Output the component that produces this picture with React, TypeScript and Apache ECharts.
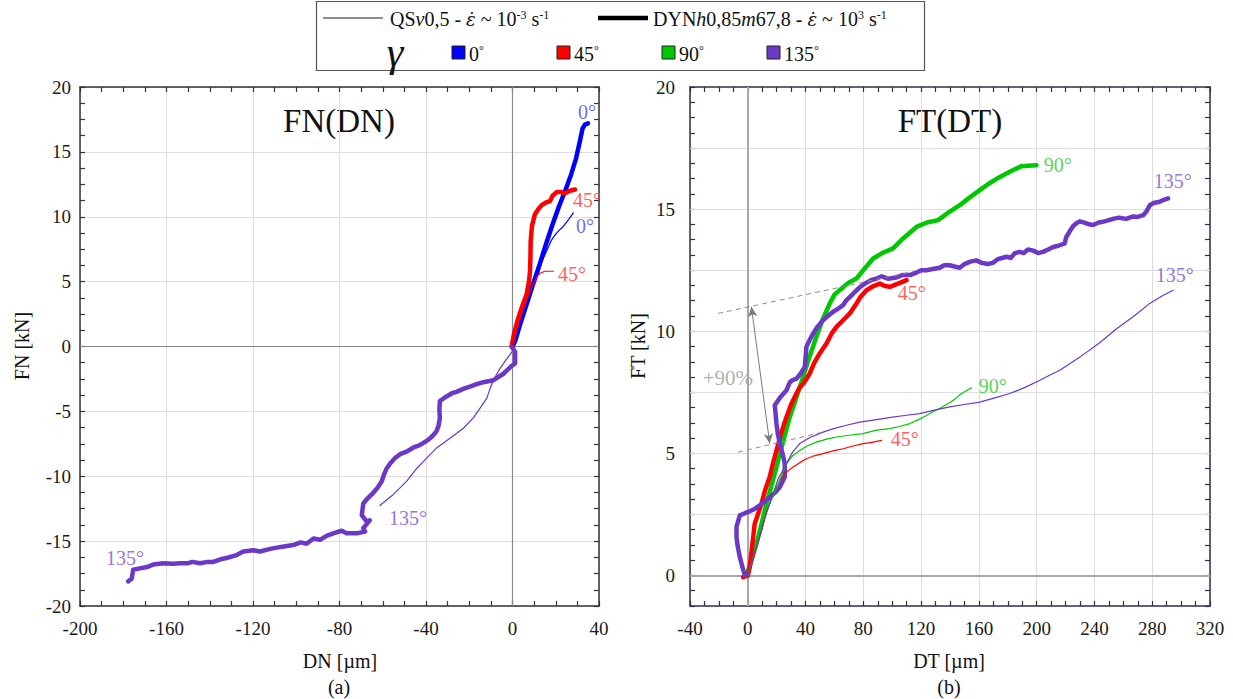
import React, { useEffect, useRef } from 'react';
import * as echarts from 'echarts';

const FONT = '"Liberation Serif", "DejaVu Serif", serif';

// ---------- Panel (a): FN(DN) ----------
const dnXTicks = { min: -200, max: 40, interval: 40 };
const fnYTicks = { min: -20, max: 20, interval: 5 };

const dn0Dyn: number[][] = [[0,0],[1.2,0.4],[3.5,1.7],[6.4,3.2],[9.5,4.8],[12.5,6.3],[15.5,7.9],[18.5,9.4],[21.5,10.8],[24.8,12.2],[27.2,13.3],[29.4,14.5],[31,15.7],[32.4,16.8],[33.5,17.1],[34.9,17.2]];
const dn0Qs: number[][] = [[0,0],[2,1],[5,2.5],[8,4],[11,5.4],[14,6.7],[16.4,7.6],[18,8.2],[19.7,8.6],[21.5,8.95],[23.5,9.25],[26,9.8],[28.1,10.3]];
const dn45Dyn: number[][] = [[-0.4,0],[0.5,0.8],[1.5,1.5],[2.7,2.2],[4.5,3.1],[6.5,4],[7.6,5],[8.1,5.8],[8.3,7],[8.4,8.1],[9,9.3],[10.4,10.2],[12,10.6],[13.5,10.9],[15.5,11.1],[17.3,11.2],[18.5,11.6],[20.4,11.9],[22.5,11.9],[24.3,11.8],[26.5,12],[28.9,12.1]];
const dn45Qs: number[][] = [[0,0],[2.5,1.6],[5,2.9],[7.5,4],[9.6,4.75],[11,5.3],[12.7,5.65],[15,5.8],[18.9,5.8]];
const dn135Dyn: number[][] = [[-0.4,0],[1.2,-0.4],[1.2,-1.3],[-0.4,-1.5],[-4.2,-2.1],[-8.8,-2.6],[-13.5,-2.75],[-16.5,-2.9],[-19.7,-3.1],[-22.5,-3.25],[-25.9,-3.5],[-28,-3.6],[-30.5,-3.85],[-33.6,-4.2],[-33.8,-4.9],[-33.6,-5.5],[-34.2,-6.1],[-35.2,-6.55],[-37,-6.9],[-39,-7.2],[-42.9,-7.6],[-46,-7.8],[-49,-8.1],[-52,-8.3],[-54.3,-8.6],[-56.5,-9],[-58.2,-9.4],[-59.5,-9.9],[-60.5,-10.4],[-62.5,-10.9],[-65.1,-11.4],[-67,-11.7],[-69,-12.1],[-69.7,-13],[-67.4,-13.5],[-66,-13.4],[-69,-14],[-68.2,-14.26],[-72,-14.4],[-76.7,-14.4],[-79,-14.2],[-82.9,-14.4],[-86,-14.6],[-89,-14.9],[-92,-14.8],[-95.2,-15.2],[-98,-15.1],[-101.4,-15.3],[-105,-15.4],[-109,-15.5],[-112,-15.6],[-116.8,-15.8],[-120,-15.7],[-124.5,-15.8],[-128,-16.1],[-132.2,-16.3],[-135,-16.4],[-138.4,-16.6],[-141,-16.6],[-144.5,-16.7],[-148,-16.6],[-150,-16.7],[-153.8,-16.7],[-157,-16.75],[-161.5,-16.7],[-166.1,-16.8],[-169,-17],[-172.3,-17.1],[-175.4,-17.2],[-176.1,-17.9],[-177.7,-18.1]];
const dn135Qs: number[][] = [[0,0],[0.4,-0.25],[-1.5,-0.7],[-3.5,-1.15],[-5.8,-1.7],[-7.5,-2.2],[-8.8,-2.6],[-10.5,-3.3],[-11.9,-4],[-15,-4.75],[-18.1,-5.5],[-22.7,-6.3],[-28.9,-7.07],[-35,-7.8],[-39.7,-8.6],[-44.3,-9.4],[-49,-10.4],[-55.1,-11.4],[-61.3,-12.25]];

// ---------- Panel (b): FT(DT) ----------
const dtXTicks = { min: -40, max: 320, interval: 40 };
const ftYTicks = { min: -1.25, max: 20, interval: 0.625 };
const ftGridValues = [2.5, 5, 7.5, 10, 12.5, 15, 17.5];

const dt90Dyn: number[][] = [[0,0],[0.2,0.2],[3,0.7],[6,1.3],[9.5,2.1],[12.9,2.94],[16.5,3.7],[19.9,4.44],[24.5,5.5],[29.1,6.49],[33.7,7.3],[38.3,8.13],[43,9],[47.5,9.77],[52,10.5],[56.8,11.14],[60,11.5],[66,11.8],[70,12],[75.3,12.16],[80,12.5],[86.8,12.98],[93,13.2],[100.6,13.39],[107.5,13.8],[116.8,14.27],[124,14.45],[131.8,14.55],[139.8,14.9],[146.8,15.16],[153,15.45],[160.6,15.78],[167,16.05],[174.5,16.32],[182,16.55],[189.5,16.76],[194,16.78],[199.9,16.8]];
const dt45Dyn: number[][] = [[-3.2,-0.07],[0,0],[1.4,0.34],[3,1.2],[4.8,2.12],[7,2.5],[9.5,2.94],[12,3.5],[15.2,4.03],[17.5,4.6],[19.9,5.12],[23,5.8],[26.8,6.49],[30,7],[33.7,7.45],[36,7.7],[39,7.9],[42.9,8.27],[46,8.7],[49.8,9.09],[54.5,9.5],[58,9.9],[61.4,10.18],[66,10.45],[70.6,10.73],[75.3,11.14],[78,11.4],[82.2,11.68],[87,11.85],[91.4,11.95],[95,11.85],[98.3,11.82],[104,11.95],[109.9,12.09]];
const dt135Dyn: number[][] = [[-2,0],[-3.5,0.3],[-5.5,0.75],[-7,1.2],[-7.8,1.57],[-7.8,2],[-5.5,2.46],[-2,2.55],[0.2,2.6],[4,2.7],[8.3,2.87],[12,3.05],[15.2,3.2],[19,3.4],[22.2,3.62],[25.6,4.03],[25.6,4.58],[24,5],[22.2,5.4],[20.8,5.8],[19.9,6.2],[18.7,6.97],[22.5,7.3],[26.8,7.58],[29,7.9],[31,8],[33.7,8.06],[37,8.3],[39.5,8.54],[40.6,9.36],[42.5,9.6],[45.2,9.9],[48.5,10.2],[52.1,10.45],[55,10.6],[59.1,10.8],[62,10.9],[66,11.07],[68,11.25],[70.6,11.4],[74,11.6],[77.5,11.8],[81,11.95],[85.6,12.1],[89,12.15],[92.6,12.25],[97,12.15],[102.9,12.2],[107,12.3],[112.2,12.3],[116.8,12.4],[120,12.5],[123.7,12.5],[128,12.55],[132.9,12.6],[136,12.7],[139.8,12.7],[143,12.65],[146.8,12.6],[150,12.75],[154,12.85],[158.3,12.9],[162,12.8],[166,12.75],[169.8,12.8],[173,12.95],[176,13],[179.1,13.05],[182,13],[185,13.2],[188.3,13.25],[191,13.2],[194,13.35],[197.5,13.3],[201,13.2],[204.4,13.25],[208,13.35],[211.4,13.45],[215,13.5],[219.5,13.6],[220,13.75],[220.6,13.87],[223,14.1],[225.2,14.3],[227,14.4],[229.8,14.5],[233,14.45],[236,14.38],[239,14.35],[243,14.45],[247,14.5],[252.9,14.6],[257,14.65],[262,14.6],[266.8,14.7],[270,14.68],[273.7,14.75],[276,14.9],[278.3,15.16],[281,15.25],[285.2,15.3],[288,15.38],[291,15.44]];
const dt45Qs: number[][] = [[0,0],[2,0.3],[4.8,0.89],[7,1.4],[9.5,1.84],[12,2.4],[15.2,2.94],[18.5,3.45],[22.2,3.89],[26,4.2],[31.4,4.44],[36,4.62],[40.6,4.78],[46,4.9],[52.1,4.99],[59,5.1],[66,5.19],[73,5.3],[79.8,5.4],[86,5.45],[92.6,5.53]];
const dt90Qs: number[][] = [[0,0],[3,0.6],[6,1.3],[10,2.2],[15.2,2.94],[20,3.6],[26.8,4.58],[31,4.9],[36,5.12],[41,5.3],[47.5,5.46],[54,5.57],[61.4,5.67],[70,5.74],[79.8,5.81],[89,5.95],[98.3,6.01],[105,6.1],[112.2,6.22],[119,6.4],[126,6.63],[133,6.85],[139.8,7.07],[144,7.25],[147.9,7.45],[151,7.55],[154.8,7.69]];
const dt135Qs: number[][] = [[0,0],[4,0.8],[9.5,1.84],[13,2.6],[17.5,3.35],[21,3.95],[26.8,4.58],[31,5.05],[36,5.4],[43,5.65],[52.1,5.87],[60,6.02],[68.3,6.15],[77.5,6.28],[89.1,6.38],[99,6.47],[109.9,6.56],[119,6.63],[130,6.78],[139.8,6.9],[150,7],[160.6,7.1],[171,7.27],[181.4,7.45],[192,7.7],[202.2,7.99],[209,8.2],[216,8.4],[230,8.95],[243,9.5],[255.3,10.1],[266.8,10.59],[278.3,11.14],[287,11.45],[294.5,11.68]];
const trendUpper: number[][] = [[-20.5,10.73],[115,12.45]];
const trendLower: number[][] = [[-6.7,5.05],[52.1,5.87]];
const arrowEnds: number[][] = [[2.5,11.0],[15.2,5.4]];

// Curve labels [x, y, text, colour key]
const labelsA: [number, number, string, string][] = [
  [34.4, 18.1, '0°', 'blue'], [34.4, 11.3, '45°', 'red'], [33.5, 9.25, '0°', 'blue'],
  [27.5, 5.6, '45°', 'red'], [-48.3, -13.2, '135°', 'purple'], [-179.2, -16.3, '135°', 'purple'],
];
const labelsB: [number, number, string, string][] = [
  [214.6, 16.8, '90°', 'green'], [294.2, 16.15, '135°', 'purple'], [113.5, 11.55, '45°', 'red'],
  [295.6, 12.3, '135°', 'purple'], [169.6, 7.75, '90°', 'green'], [108.7, 5.6, '45°', 'red'],
  [-13.8, 8.1, '+90%', 'gray'],
];

const COL: Record<string, string> = { blue: '#0000ff', red: '#ff0000', green: '#00c800', purple: '#6b38c8' };
const LABCOL: Record<string, string> = { blue: '#3f3fff', red: '#ff3535', green: '#2ec82e', purple: '#7a4fd2', gray: '#9a9a9a' };

function makeAxes(grid: number, isX: boolean, t: { min: number; max: number; interval: number }, opts: any) {
  const axisColor = grid === 0 ? '#333333' : '#332c48';
  const base = {
    type: 'value', gridIndex: grid, min: t.min, max: t.max, interval: t.interval,
    axisLine: { show: true, onZero: false, lineStyle: { color: axisColor, width: 1.5 } },
    axisTick: { show: true, inside: true, length: 5, lineStyle: { color: axisColor, width: 1.2 } },
    minorTick: { show: opts.minor, splitNumber: 4, length: 5, lineStyle: { color: axisColor, width: 1.2 } },
  };
  const main = {
    ...base,
    position: isX ? 'bottom' : 'left',
    splitLine: { show: opts.split, lineStyle: { color: '#dddddd', width: 1 } },
    axisLabel: {
      color: '#1a1a1a', fontFamily: FONT, fontSize: 19, margin: isX ? 13 : opts.ymargin,
      formatter: opts.fmt,
    },
  };
  const mirror = {
    ...base,
    position: isX ? 'top' : 'right',
    splitLine: { show: false },
    axisLabel: { show: false },
  };
  return [main, mirror];
}

function lineSeries(name: string, data: number[][], color: string, width: number, xi: number, yi: number, z = 3) {
  return {
    type: 'line', name, data, xAxisIndex: xi, yAxisIndex: yi,
    showSymbol: false, symbol: 'none', smooth: false, z,
    lineStyle: { color, width, cap: 'round', join: 'round' },
  };
}

function labelSeries(labels: [number, number, string, string][], xi: number, yi: number) {
  return {
    type: 'scatter', xAxisIndex: xi, yAxisIndex: yi, symbolSize: 2, z: 10,
    itemStyle: { color: 'rgba(0,0,0,0)' },
    data: labels.map((l) => ({
      value: [l[0], l[1]], name: l[2],
      label: { show: true, position: 'inside', formatter: '{b}', color: LABCOL[l[3]], fontFamily: FONT, fontSize: l[2] === '+90%' ? 21 : 20 },
    })),
  };
}

function refLines(xi: number, yi: number, lines: any[], color: string, width: number) {
  return {
    type: 'line', xAxisIndex: xi, yAxisIndex: yi, data: [], symbol: 'none', showSymbol: false,
    markLine: { silent: true, z: 1, symbol: ['none', 'none'], label: { show: false }, lineStyle: { color, width, type: 'solid' }, animation: false, data: lines },
  };
}

function txt(x: number, y: number, text: string, size: number, extra: any = {}) {
  const { style, ...rest } = extra;
  return {
    type: 'text', x, y, ...rest,
    style: { text, fill: '#111', fontFamily: FONT, fontSize: size, textAlign: 'center', align: 'center', textVerticalAlign: 'middle', verticalAlign: 'middle', ...(style || {}) },
  };
}

export default function App() {
  const ref = useRef<HTMLDivElement>(null);
  useEffect(() => {
    if (!ref.current) return;
    const chart = echarts.init(ref.current, undefined, { renderer: 'svg' });
    const [xa0, xa1] = makeAxes(0, true, dnXTicks, { minor: true, split: true });
    const [ya0, ya1] = makeAxes(0, false, fnYTicks, { minor: true, split: true, ymargin: 9 });
    const [xb0, xb1] = makeAxes(1, true, dtXTicks, { minor: true, split: true });
    const fmtB = (v: number) => (Math.abs(v / 5 - Math.round(v / 5)) < 1e-6 ? String(Math.round(v)) : '');
    const [yb0, yb1] = makeAxes(1, false, ftYTicks, { minor: false, split: false, ymargin: 15, fmt: fmtB });

    const rich = {
      n: { fontFamily: FONT, fontSize: 20, fill: '#111' },
      i: { fontFamily: FONT, fontSize: 20, fontStyle: 'italic', fill: '#111' },
      e: { fontFamily: '"DejaVu Serif", serif', fontSize: 18, fontStyle: 'italic', fill: '#111' },
      s: { fontFamily: FONT, fontSize: 12, fill: '#111', verticalAlign: 'top' },
    };
    const legendText = (x: number, y: number, text: string) => ({
      type: 'text', x, y,
      style: { text, rich, fontFamily: FONT, fontSize: 20, fill: '#111', textAlign: 'left', align: 'left', textVerticalAlign: 'middle', verticalAlign: 'middle' },
    });
    const swatch = (x: number, color: string, label: string) => ([
      { type: 'rect', shape: { x, y: 46, width: 13, height: 13 }, style: { fill: color, stroke: '#222', lineWidth: 1 } },
      legendText(x + 17, 54, `{n|${label}}{s|°}`),
    ]);

    const option: any = {
      animation: false,
      backgroundColor: '#ffffff',
      grid: [
        { left: 80, top: 87, width: 519, height: 519 },
        { left: 690, top: 87, width: 520, height: 519 },
      ],
      xAxis: [xa0, xa1, xb0, xb1],
      yAxis: [ya0, ya1, yb0, yb1],
      series: [
        refLines(0, 0, [{ xAxis: 0 }, { yAxis: 0 }], '#8a8a8a', 1.2),
        refLines(2, 2, ftGridValues.map((v) => ({ yAxis: v })), '#dddddd', 1),
        refLines(2, 2, [{ xAxis: 0 }, { yAxis: 0 }], '#a8a8a8', 2),
        // panel (a)
        lineSeries('DYN 0°', dn0Dyn, COL.blue, 4.5, 0, 0),
        lineSeries('DYN 45°', dn45Dyn, COL.red, 4.5, 0, 0),
        lineSeries('DYN 135°', dn135Dyn, COL.purple, 4.5, 0, 0),
        lineSeries('QS 0°', dn0Qs, COL.blue, 1.2, 0, 0, 4),
        lineSeries('QS 45°', dn45Qs, COL.red, 1.2, 0, 0, 4),
        lineSeries('QS 135°', dn135Qs, COL.purple, 1.2, 0, 0, 4),
        labelSeries(labelsA, 0, 0),
        // panel (b)
        lineSeries('DYN 90°', dt90Dyn, COL.green, 4.5, 2, 2),
        lineSeries('DYN 45°', dt45Dyn, COL.red, 4.5, 2, 2),
        lineSeries('DYN 135°', dt135Dyn, COL.purple, 4.5, 2, 2),
        lineSeries('QS 45°', dt45Qs, COL.red, 1.2, 2, 2, 4),
        lineSeries('QS 90°', dt90Qs, COL.green, 1.2, 2, 2, 4),
        lineSeries('QS 135°', dt135Qs, COL.purple, 1.2, 2, 2, 4),
        {
          ...lineSeries('trend upper', trendUpper, '#888888', 1, 2, 2, 5),
          lineStyle: { color: '#8c8c8c', width: 1, type: [5, 4] },
          markLine: {
            silent: true, z: 6, symbol: ['arrow', 'arrow'], symbolSize: [7, 10], label: { show: false },
            lineStyle: { color: '#7a7a7a', width: 1, type: 'solid' },
            data: [[{ coord: arrowEnds[0] }, { coord: arrowEnds[1] }]],
          },
        },
        { ...lineSeries('trend lower', trendLower, '#888888', 1, 2, 2, 5), lineStyle: { color: '#8c8c8c', width: 1, type: [5, 4] } },
        labelSeries(labelsB, 2, 2),
      ],
      graphic: [
        txt(339, 121, 'FN(DN)', 33),
        txt(950, 121, 'FT(DT)', 33),
        txt(22, 346, 'FN [kN]', 20, { rotation: Math.PI / 2 }),
        txt(638, 346, 'FT [kN]', 20, { rotation: Math.PI / 2 }),
        txt(340, 661, 'DN [µm]', 20),
        txt(949, 661, 'DT [µm]', 20),
        txt(339, 687, '(a)', 20),
        txt(949, 687, '(b)', 20),
        // legend box
        { type: 'rect', shape: { x: 316.5, y: 1.5, width: 608, height: 69 }, style: { fill: '#fff', stroke: '#555', lineWidth: 1.2 } },
        { type: 'line', shape: { x1: 323, y1: 18, x2: 383, y2: 18 }, style: { stroke: '#6a6a6a', lineWidth: 1.5 } },
        legendText(390, 19, '{n|QS}{i|v}{n|0,5 - }{e|ε̇}{n| ~ 10}{s|-3}{n| s}{s|-1}'),
        { type: 'line', shape: { x1: 598, y1: 18, x2: 648, y2: 18 }, style: { stroke: '#000', lineWidth: 4.5 } },
        legendText(653, 19, '{n|DYN}{i|h}{n|0,85}{i|m}{n|67,8 - }{e|ε̇}{n| ~ 10}{s|3}{n| s}{s|-1}'),
        txt(395, 73, 'γ', 42, { style: { fontStyle: 'italic', textVerticalAlign: 'bottom', verticalAlign: 'bottom' } }),
        ...swatch(452, COL.blue, '0'),
        ...swatch(557, COL.red, '45'),
        ...swatch(662, COL.green, '90'),
        ...swatch(767, COL.purple, '135'),
      ],
    };
    chart.setOption(option);
    return () => chart.dispose();
  }, []);
  return <div ref={ref} style={{ position: 'absolute', left: 0, top: 0, width: 1233, height: 699 }} />;
}
